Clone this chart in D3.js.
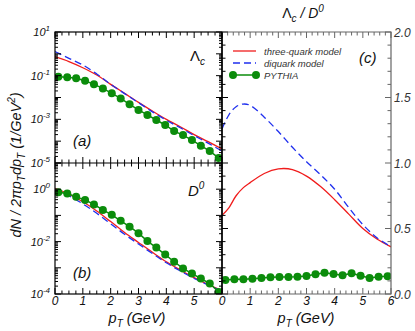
<!DOCTYPE html>
<html>
<head>
<meta charset="utf-8">
<script src="https://cdn.jsdelivr.net/npm/d3@7"></script>
<style>
  html, body { margin: 0; padding: 0; background: #fff; }
  svg text { font-family: "Liberation Sans", Arial, sans-serif; font-style: italic; }
</style>
</head>
<body>
<div id="chart"></div>
<script>
// model curves sampled every 0.5 GeV
const ptModel = [0, 0.5, 1, 1.5, 2, 2.5, 3, 3.5, 4, 4.5, 5, 5.5, 6];
const lcThree = [0.74, 0.44, 0.23, 0.107, 0.040, 0.0155, 0.0060, 0.0024, 0.0010, 4.6e-4, 2.0e-4, 9.5e-5, 4.4e-5];
const lcDiquark = [1.26, 0.62, 0.31, 0.12, 0.040, 0.0151, 0.0058, 0.0022, 9.1e-4, 4.1e-4, 1.8e-4, 8.1e-5, 3.5e-5];
const d0Three = [1.07, 0.65, 0.33, 0.148, 0.058, 0.0224, 0.0093, 0.0039, 0.0017, 8.3e-4, 4.2e-4, 2.3e-4, 1.4e-4];
const d0Diquark = [1.0, 0.56, 0.275, 0.12, 0.048, 0.019, 0.0081, 0.0035, 0.00155, 7.6e-4, 3.9e-4, 2.2e-4, 1.3e-4];

// PYTHIA bins
const ptPythia = [0.12, 0.44, 0.76, 1.08, 1.40, 1.72, 2.04, 2.36, 2.68, 3.00, 3.32, 3.64, 3.96, 4.28, 4.60, 4.92, 5.24, 5.56, 5.88];
const lcPythia = [0.089, 0.085, 0.076, 0.058, 0.040, 0.026, 0.0155, 0.0091, 0.0049, 0.0027, 0.0016, 9.3e-4, 5.5e-4, 2.9e-4, 1.9e-4, 1.12e-4, 6.2e-5, 3.5e-5, 1.7e-5];
const d0Pythia = [0.76, 0.69, 0.51, 0.39, 0.26, 0.162, 0.105, 0.062, 0.037, 0.021, 0.0105, 0.0059, 0.0032, 0.0017, 9.5e-4, 6.0e-4, 3.9e-4, 2.5e-4, 1.2e-4];

// ratio panel
const ptRatio = [0, 0.25, 0.5, 0.75, 1, 1.5, 2, 2.5, 3, 3.5, 4, 4.5, 5, 5.5, 6];
const ratioThree = [0.60, 0.66, 0.75, 0.81, 0.85, 0.92, 0.955, 0.95, 0.90, 0.82, 0.72, 0.61, 0.50, 0.42, 0.36];
const ratioDiquark = [1.26, 1.37, 1.43, 1.45, 1.44, 1.35, 1.24, 1.12, 1.01, 0.91, 0.80, 0.66, 0.53, 0.43, 0.36];
const ratioPythia = [0.107, 0.112, 0.112, 0.117, 0.122, 0.127, 0.130, 0.130, 0.132, 0.137, 0.150, 0.162, 0.153, 0.143, 0.158, 0.140, 0.122, 0.132, 0.135];

const xTicksLeft = [0, 1, 2, 3, 4, 5];
const xTicksRight = [0, 1, 2, 3, 4, 5, 6];
const yTicksA = [10, 0.1, 1e-3, 1e-5];
const yTicksB = [1, 1e-2, 1e-4];
const yTicksRatio = [0, 0.5, 1, 1.5, 2];
const legendNames = ["three-quark model", "diquark model", "PYTHIA"];

const W = 415, H = 331;
const L = 55, M = 222, R = 391, T = 32, MID = 163, B = 294;

const colors = { three: "#f01c1c", diquark: "#1f2fee", pythia: "#0b8c0b" };

const svg = d3.select("#chart").append("svg")
    .attr("width", W).attr("height", H);

const xL = d3.scaleLinear().domain([0, 6]).range([L, M]);
const xR = d3.scaleLinear().domain([0, 6]).range([M, R]);
const yA = d3.scaleLog().domain([1e-5, 10]).range([MID, T]);
const yB = d3.scaleLog().domain([1e-4, 10]).range([B, MID]);
const yR = d3.scaleLinear().domain([0, 2]).range([B, T]);

// clip paths
const defs = svg.append("defs");
function clip(id, x0, y0, x1, y1) {
    defs.append("clipPath").attr("id", id).append("rect")
        .attr("x", x0).attr("y", y0).attr("width", x1 - x0).attr("height", y1 - y0);
}
clip("clipA", L, T, M, MID);
clip("clipB", L, MID, M, B);
clip("clipC", M, T, R, B);

function drawSeries(id, xs, xScale, yScale, data) {
    const g = svg.append("g").attr("clip-path", `url(#${id})`);
    const line = d3.line().curve(d3.curveCatmullRom)
        .x((d, i) => xScale(xs[i])).y(d => yScale(d));
    g.append("path").datum(data.three)
        .attr("fill", "none").attr("stroke", colors.three).attr("stroke-width", 1.3)
        .attr("d", line);
    g.append("path").datum(data.diquark)
        .attr("fill", "none").attr("stroke", colors.diquark).attr("stroke-width", 1.3)
        .attr("stroke-dasharray", "7,4")
        .attr("d", line);
    const pl = d3.line().x((d, i) => xScale(ptPythia[i])).y(d => yScale(d));
    g.append("path").datum(data.pythia)
        .attr("fill", "none").attr("stroke", colors.pythia).attr("stroke-width", 1.5)
        .attr("d", pl);
    g.selectAll("circle.m").data(data.pythia).enter().append("circle")
        .attr("cx", (d, i) => xScale(ptPythia[i])).attr("cy", d => yScale(d))
        .attr("r", 4).attr("fill", colors.pythia);
}

drawSeries("clipA", ptModel, xL, yA, { three: lcThree, diquark: lcDiquark, pythia: lcPythia });
drawSeries("clipB", ptModel, xL, yB, { three: d0Three, diquark: d0Diquark, pythia: d0Pythia });
drawSeries("clipC", ptRatio, xR, yR, { three: ratioThree, diquark: ratioDiquark, pythia: ratioPythia });

// ticks
const axisG = svg.append("g");
function tick(x1, y1, x2, y2, col) {
    axisG.append("line").attr("x1", x1).attr("y1", y1).attr("x2", x2).attr("y2", y2)
        .attr("stroke", col || "#000").attr("stroke-width", 1);
}

// x ticks, every 0.25 with majors at integers
d3.range(0, 6.001, 0.25).forEach(v => {
    const major = Math.abs(v - Math.round(v)) < 1e-6;
    const len = major ? 6 : 3.5;
    const a = xL(v);
    tick(a, T, a, T + len);
    tick(a, MID - len, a, MID + len);
    tick(a, B, a, B - len);
});
d3.range(0, 6.001, 0.2).forEach((v, i) => {
    const major = i % 5 === 0;
    const len = major ? 6 : 3.5;
    const a = xR(v);
    tick(a, T, a, T + len, "#666");
    tick(a, B, a, B - len, "#666");
});

// log ticks
function logTicks(scale, lo, hi) {
    for (let e = lo; e < hi; e++) {
        for (let k = 1; k < 10; k++) {
            const y = scale(k * Math.pow(10, e));
            const len = k === 1 ? 6 : 3;
            tick(L, y, L + len, y);
            tick(M, y, M - len, y);
        }
    }
    const y = scale(Math.pow(10, hi));
    tick(L, y, L + 6, y);
    tick(M, y, M - 6, y);
}
logTicks(yA, -5, 1);
logTicks(yB, -4, 1);

// ratio y ticks
d3.range(0, 2.001, 0.1).forEach((v, i) => {
    const major = i % 5 === 0;
    const len = major ? 6 : 3.5;
    const y = yR(v);
    tick(M, y, M + len, y);
    tick(R, y, R - len, y, "#666");
});

// frames
const frame = svg.append("g").attr("fill", "none");
frame.append("rect").attr("x", L).attr("y", T).attr("width", M - L).attr("height", B - T)
    .attr("stroke", "#000").attr("stroke-width", 1.2);
frame.append("line").attr("x1", L).attr("x2", M).attr("y1", MID).attr("y2", MID)
    .attr("stroke", "#000").attr("stroke-width", 1.2);
frame.append("path").attr("d", `M${M},${T}H${R}V${B}H${M}`)
    .attr("stroke", "#666").attr("stroke-width", 1.2);
frame.append("line").attr("x1", M).attr("x2", M).attr("y1", T).attr("y2", B)
    .attr("stroke", "#000").attr("stroke-width", 1.4);

// tick labels
const labels = svg.append("g").attr("fill", "#111");
function powLabel(y, e) {
    const t = labels.append("text").attr("x", 50).attr("y", y + 4)
        .attr("text-anchor", "end").attr("font-size", 11);
    t.append("tspan").text("10");
    t.append("tspan").attr("dy", -5).attr("font-size", 8).text(e);
}
yTicksA.forEach(v => powLabel(yA(v), Math.round(Math.log10(v))));
yTicksB.forEach(v => powLabel(yB(v), Math.round(Math.log10(v))));

xTicksLeft.forEach(v => {
    labels.append("text").attr("x", xL(v)).attr("y", B + 11)
        .attr("text-anchor", "middle").attr("font-size", 12).text(v);
});
xTicksRight.forEach(v => {
    labels.append("text").attr("x", xR(v)).attr("y", B + 11)
        .attr("text-anchor", "middle").attr("font-size", 12).text(v);
});
yTicksRatio.forEach(v => {
    labels.append("text").attr("x", R + 3).attr("y", yR(v) + 4.5)
        .attr("font-size", 12).attr("fill", "#333").text(v.toFixed(1));
});

// axis titles
function ptTitle(cx) {
    const t = labels.append("text").attr("x", cx).attr("y", B + 29)
        .attr("text-anchor", "middle").attr("font-size", 14.5);
    t.append("tspan").text("p");
    t.append("tspan").attr("dy", 4).attr("font-size", 10).text("T");
    t.append("tspan").attr("dy", -4).text("  (GeV)");
}
ptTitle(137);
ptTitle(306);

const yt = labels.append("text")
    .attr("transform", `translate(21,${(T + B) / 2 + 2}) rotate(-90)`)
    .attr("text-anchor", "middle").attr("font-size", 14.5);
yt.append("tspan").text("dN / 2\u03c0p");
yt.append("tspan").attr("dy", 4).attr("font-size", 10).text("T");
yt.append("tspan").attr("dy", -4).text("dp");
yt.append("tspan").attr("dy", 4).attr("font-size", 10).text("T");
yt.append("tspan").attr("dy", -4).text("  (1/GeV");
yt.append("tspan").attr("dy", -6).attr("font-size", 10).text("2");
yt.append("tspan").attr("dy", 6).text(")");

// panel labels
function particle(x, y, main, sub, sup) {
    const t = labels.append("text").attr("x", x).attr("y", y).attr("font-size", 15);
    t.append("tspan").text(main);
    if (sub) t.append("tspan").attr("dy", 4).attr("font-size", 10).text(sub);
    if (sup) t.append("tspan").attr("dy", -7).attr("font-size", 10).text(sup);
    return t;
}
const lam = particle(190, 61, "\u039b", "c");
lam.select("tspan").style("font-style", "normal");
particle(188, 196, "D", null, "0");
labels.append("text").attr("x", 73).attr("y", 146).attr("font-size", 15).text("(a)");
labels.append("text").attr("x", 73).attr("y", 278).attr("font-size", 15).text("(b)");
labels.append("text").attr("x", 359).attr("y", 63).attr("font-size", 15).text("(c)");

// title
const title = labels.append("text").attr("x", 303).attr("y", 18)
    .attr("text-anchor", "middle").attr("font-size", 14);
title.append("tspan").style("font-style", "normal").text("\u039b");
title.append("tspan").attr("dy", 4).attr("font-size", 10).text("c");
title.append("tspan").attr("dy", -4).text(" / D");
title.append("tspan").attr("dy", -6).attr("font-size", 10).text("0");

// legend
const lg = svg.append("g");
const lx0 = 233, lx1 = 256, ly = [51, 63, 75];
lg.append("line").attr("x1", lx0).attr("x2", lx1).attr("y1", ly[0]).attr("y2", ly[0])
    .attr("stroke", colors.three).attr("stroke-width", 1.3);
lg.append("line").attr("x1", lx0).attr("x2", lx1).attr("y1", ly[1]).attr("y2", ly[1])
    .attr("stroke", colors.diquark).attr("stroke-width", 1.3).attr("stroke-dasharray", "7,4");
lg.append("line").attr("x1", lx0).attr("x2", lx1).attr("y1", ly[2]).attr("y2", ly[2])
    .attr("stroke", colors.pythia).attr("stroke-width", 1.5);
[lx0, lx1].forEach(x => lg.append("circle").attr("cx", x).attr("cy", ly[2]).attr("r", 4).attr("fill", colors.pythia));
legendNames.forEach((name, i) => {
    lg.append("text").attr("x", 264).attr("y", ly[i] + 3.5)
        .attr("font-size", 9.5).attr("fill", "#333").text(name);
});
</script>
</body>
</html>
